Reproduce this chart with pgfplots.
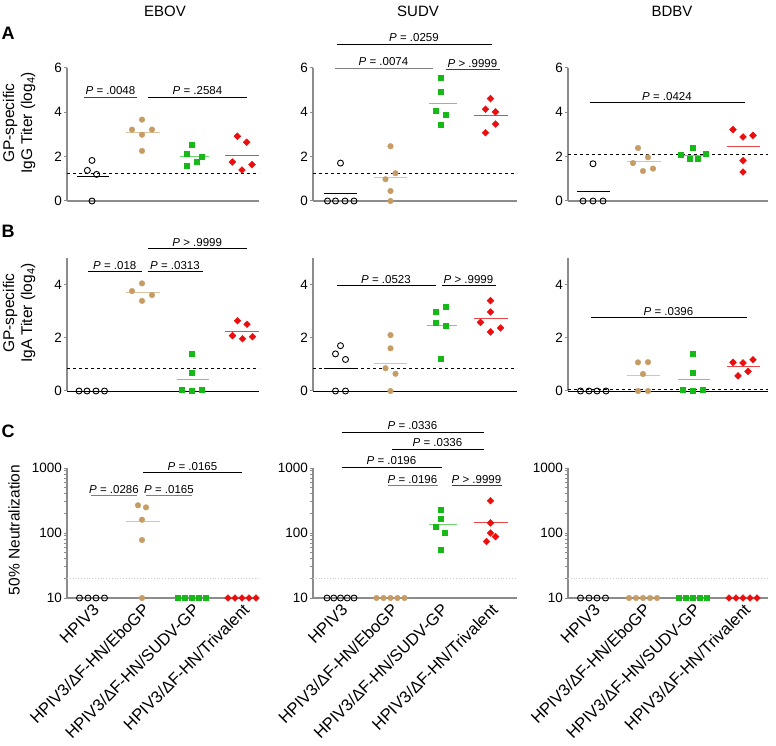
\documentclass[border=0pt]{standalone}
\usepackage{pgfplots}
\pgfplotsset{compat=1.18}
\usepackage{fontspec}
\setmainfont{Liberation Sans}
\definecolor{tanc}{RGB}{198,156,100}
\definecolor{tanl}{RGB}{222,196,158}
\definecolor{grn}{RGB}{22,186,22}
\definecolor{grnl}{RGB}{110,212,110}
\definecolor{redc}{RGB}{234,14,14}
\definecolor{redl}{RGB}{236,70,70}
\definecolor{axgray}{RGB}{140,140,140}
\pgfplotsset{
  panel/.style={scale only axis, anchor=south west, clip=false,
    axis x line*=bottom, axis y line*=left,
    axis line style={axgray, line width=1.4pt},
    xtick=\empty, tick align=outside, major tick length=3pt,
    ytick style={axgray, line width=1pt},
    tick label style={font=\fontsize{13.5}{15}\selectfont},
    /pgf/number format/assume math mode=true,
    yticklabel style={inner sep=1pt, xshift=-1pt}},
  cA/.style={at={(67pt,#1)}, width=192pt, xmin=-0.5, xmax=3.34},
  cB/.style={at={(313pt,#1)}, width=204pt, xmin=-0.55, xmax=3.53},
  cC/.style={at={(568pt,#1)}, width=200pt, xmin=-0.5, xmax=3.5},
  rA/.style={height=133pt, ymin=0, ymax=6, ytick={0,2,4,6}},
  rB/.style={height=132.5pt, ymin=0, ymax=5, ytick={0,2,4},
    x axis line style={black, line width=0.8pt}},
  rC/.style={height=130pt, ymin=10, ymax=1000, ytick={10,100,1000},
    yticklabels={10,100,1000}, xtick={0,1,2,3},
    xticklabels={HPIV3,HPIV3/ΔF-HN/EboGP,HPIV3/ΔF-HN/SUDV-GP,HPIV3/ΔF-HN/Trivalent},
    xtick style={draw=none},
    xticklabel style={rotate=45, anchor=north east, inner sep=1pt, font=\fontsize{16.5}{18}\selectfont}},
  ho/.style={only marks, mark=o, mark size=3pt, black, mark options={line width=0.9pt}},
  eb/.style={only marks, mark=*, mark size=2.8pt, tanc},
  su/.style={only marks, mark=square*, mark size=2.5pt, grn},
  tr/.style={only marks, mark=square*, mark size=2.4pt, redc, mark options={rotate=45}},
  med/.style={line width=1pt, no marks},
  dsh/.style={black, dashed, line width=0.8pt, no marks},
  dtt/.style={gray!40, dotted, line width=0.8pt, no marks},
}
\newcommand{\pv}[5][black]{\draw[#1, line width=0.9pt] (axis cs:#2,#4) -- (axis cs:#3,#4) node[midway, above, inner sep=1.5pt, text=black, font=\fontsize{11.5}{13}\selectfont] {#5};}
\begin{document}
\begin{tikzpicture}
\useasboundingbox (0pt,0pt) rectangle (776pt,745pt);
% titles and labels
\node[font=\fontsize{15}{16}\selectfont] at (165pt,734pt) {EBOV};
\node[font=\fontsize{15}{16}\selectfont] at (418pt,734pt) {SUDV};
\node[font=\fontsize{15}{16}\selectfont] at (672pt,734pt) {BDBV};
\node[font=\fontsize{18}{20}\bfseries\selectfont] at (8pt,712pt) {A};
\node[font=\fontsize{18}{20}\bfseries\selectfont] at (8pt,514pt) {B};
\node[font=\fontsize{18}{20}\bfseries\selectfont] at (8pt,314pt) {C};
\node[rotate=90, align=center, font=\fontsize{15.5}{18}\selectfont] at (19pt,622pt) {GP-specific\\IgG Titer (log\textsubscript{4})};
\node[rotate=90, align=center, font=\fontsize{15.5}{18}\selectfont] at (19pt,432pt) {GP-specific\\IgA Titer (log\textsubscript{4})};
\node[rotate=90, font=\fontsize{15.5}{18}\selectfont] at (14pt,215pt) {50\% Neutralization};

% ---------- Row A ----------
\begin{axis}[panel, cA=544pt, rA]
\addplot[dsh] coordinates {(-0.5,1.26) (3.34,1.26)};
\addplot[ho] coordinates {(0,1.83) (-0.093,1.38) (0.093,1.20) (0,0)};
\addplot[med, black] coordinates {(-0.3,1.11) (0.33,1.11)};
\addplot[eb] coordinates {(1,3.67) (0.8,3.22) (1.2,3.22) (1,2.99) (1,2.26)};
\addplot[med, tanl] coordinates {(0.67,3.07) (1.35,3.07)};
\addplot[su] coordinates {(2,2.54) (1.9,2.14) (2.2,2.02) (1.9,1.58) (2.1,1.79)};
\addplot[med, grnl] coordinates {(1.76,2.0) (2.34,2.0)};
\addplot[tr] coordinates {(2.907,2.92) (3.093,2.65) (2.807,1.76) (3.2,1.64) (3.0,1.40)};
\addplot[med, redl] coordinates {(2.66,2.06) (3.34,2.06)};
\pv[darkgray]{-0.16}{0.9}{4.69}{\textit{P} = .0048}
\pv{1.12}{3.1}{4.69}{\textit{P} = .2584}
\end{axis}

\begin{axis}[panel, cB=544pt, rA]
\addplot[dsh] coordinates {(-0.55,1.25) (3.53,1.25)};
\addplot[ho] coordinates {(-0.26,0) (-0.1,0) (0.09,0) (0.27,0) (0,1.71)};
\addplot[med, black] coordinates {(-0.33,0.33) (0.33,0.33)};
\addplot[eb] coordinates {(1,2.47) (1.1,1.25) (0.9,0.98) (1,0.45) (1,0)};
\addplot[med, tanl] coordinates {(0.67,1.04) (1.33,1.04)};
\addplot[su] coordinates {(2,5.55) (2,4.93) (1.9,4.09) (2.1,3.89) (2,3.43)};
\addplot[med, grnl] coordinates {(1.77,4.39) (2.33,4.39)};
\addplot[tr] coordinates {(3,4.62) (2.9,4.14) (3.1,4.02) (3.1,3.47) (2.9,3.08)};
\addplot[med, redl] coordinates {(2.67,3.86) (3.35,3.86)};
\pv{-0.08}{3.02}{7.08}{\textit{P} = .0259}
\pv[gray]{-0.12}{1.84}{6.0}{\textit{P} = .0074}
\pv[darkgray]{2.1}{3.18}{5.92}{\textit{P} > .9999}
\end{axis}

\begin{axis}[panel, cC=544pt, rA]
\addplot[dsh] coordinates {(-0.5,2.08) (3.5,2.08)};
\addplot[ho] coordinates {(-0.2,0) (0,0) (0.2,0) (0,1.68)};
\addplot[med, black] coordinates {(-0.32,0.42) (0.33,0.42)};
\addplot[eb] coordinates {(0.9,2.39) (1.1,1.97) (0.8,1.71) (1.2,1.46) (1,1.35)};
\addplot[med, tanl] coordinates {(0.68,1.77) (1.35,1.77)};
\addplot[su] coordinates {(2,2.39) (1.76,2.08) (2.26,2.14) (1.93,1.91) (2.1,1.92)};
\addplot[med, grnl] coordinates {(1.72,2.05) (2.3,2.05)};
\addplot[tr] coordinates {(2.8,3.22) (3,2.89) (3.2,2.96) (3,1.82) (3,1.31)};
\addplot[med, redl] coordinates {(2.67,2.47) (3.33,2.47)};
\pv{-0.07}{3.03}{4.44}{\textit{P} = .0424}
\end{axis}

% ---------- Row B ----------
\begin{axis}[panel, cA=354pt, rB]
\addplot[dsh] coordinates {(-0.5,0.86) (3.34,0.86)};
\addplot[ho] coordinates {(-0.26,0) (-0.1,0) (0.08,0) (0.25,0)};
\addplot[eb] coordinates {(1,4.06) (0.8,3.77) (1.2,3.62) (1,3.40)};
\addplot[med, tanl] coordinates {(0.67,3.72) (1.35,3.72)};
\addplot[su] coordinates {(2,1.41) (2,0.69) (1.8,0.04) (2,0) (2.2,0.04)};
\addplot[med, grnl] coordinates {(1.7,0.44) (2.33,0.44)};
\addplot[tr] coordinates {(2.91,2.65) (3.1,2.52) (2.81,2.09) (3.01,1.97) (3.21,2.05)};
\addplot[med, redl] coordinates {(2.66,2.25) (3.34,2.25)};
\pv{-0.09}{1.0}{4.5}{\textit{P} = .018}
\pv{1.11}{2.21}{4.5}{\textit{P} = .0313}
\pv{1.11}{3.1}{5.38}{\textit{P} > .9999}
\end{axis}

\begin{axis}[panel, cB=354pt, rB]
\addplot[dsh] coordinates {(-0.55,0.86) (3.53,0.86)};
\addplot[ho] coordinates {(-0.1,0) (0.1,0) (-0.1,1.40) (0,1.71) (0.1,1.19)};
\addplot[med, black] coordinates {(-0.33,0.86) (0.33,0.86)};
\addplot[eb] coordinates {(1,2.11) (1,1.61) (0.9,0.86) (1.1,0.65) (1,0)};
\addplot[med, tanl] coordinates {(0.67,1.04) (1.33,1.04)};
\addplot[su] coordinates {(2.1,3.17) (1.9,2.98) (1.9,2.58) (2.1,2.47) (2,1.21)};
\addplot[med, grnl] coordinates {(1.72,2.48) (2.33,2.48)};
\addplot[tr] coordinates {(3,3.41) (3,2.98) (2.8,2.59) (3.2,2.38) (3,2.23)};
\addplot[med, redl] coordinates {(2.67,2.73) (3.35,2.73)};
\pv{-0.08}{1.9}{3.99}{\textit{P} = .0523}
\pv{2.02}{3.1}{3.99}{\textit{P} > .9999}
\end{axis}

\begin{axis}[panel, cC=354pt, rB]
\addplot[dsh] coordinates {(-0.5,0.06) (3.5,0.06)};
\addplot[ho] coordinates {(-0.25,0) (-0.08,0) (0.08,0) (0.26,0)};
\addplot[eb] coordinates {(0.9,1.08) (1.1,1.09) (1,0.64) (0.9,0) (1.1,0)};
\addplot[med, tanl] coordinates {(0.67,0.57) (1.33,0.57)};
\addplot[su] coordinates {(2,1.41) (2,0.69) (1.8,0.04) (2,0) (2.2,0.04)};
\addplot[med, grnl] coordinates {(1.7,0.44) (2.33,0.44)};
\addplot[tr] coordinates {(3.2,1.18) (2.8,1.08) (3,1.06) (3.1,0.74) (2.9,0.57)};
\addplot[med, redl] coordinates {(2.67,0.94) (3.33,0.94)};
\pv{-0.05}{3.07}{2.78}{\textit{P} = .0396}
\end{axis}

% ---------- Row C ----------
\begin{axis}[ymode=log, panel, cA=147pt, rC]
\addplot[dtt] coordinates {(-0.5,20) (3.34,20)};
\addplot[ho] coordinates {(-0.25,10) (-0.08,10) (0.08,10) (0.25,10)};
\addplot[eb] coordinates {(0.92,267) (1.08,248) (1,160) (1,78) (1,10)};
\addplot[med, tanl] coordinates {(0.67,151) (1.35,151)};
\addplot[su] coordinates {(1.72,10) (1.86,10) (2,10) (2.14,10) (2.28,10)};
\addplot[tr] coordinates {(2.72,10) (2.86,10) (3,10) (3.14,10) (3.28,10)};
\pv[gray]{-0.02}{0.9}{380}{\textit{P} = .0286}
\pv[gray]{1.08}{2.0}{380}{\textit{P} = .0165}
\pv{1.02}{3.0}{851}{\textit{P} = .0165}
\end{axis}

\begin{axis}[ymode=log, panel, cB=147pt, rC]
\addplot[dtt] coordinates {(-0.55,20) (3.53,20)};
\addplot[ho] coordinates {(-0.27,10) (-0.135,10) (0,10) (0.135,10) (0.27,10)};
\addplot[eb] coordinates {(0.72,10) (0.86,10) (1,10) (1.14,10) (1.28,10)};
\addplot[su] coordinates {(2,229) (2,166) (1.91,125) (2.09,100) (2,54.7)};
\addplot[med, grnl] coordinates {(1.77,134) (2.33,134)};
\addplot[tr] coordinates {(3,314) (3,143) (3,100) (3.1,88) (2.92,74)};
\addplot[med, redl] coordinates {(2.67,143) (3.35,143)};
\pv{0.02}{2.86}{3580}{\textit{P} = .0336}
\pv{1.02}{2.86}{1960}{\textit{P} = .0336}
\pv{0.02}{2.02}{1035}{\textit{P} = .0196}
\pv[gray]{0.94}{1.94}{541}{\textit{P} = .0196}
\pv[darkgray]{2.22}{3.22}{541}{\textit{P} > .9999}
\end{axis}

\begin{axis}[ymode=log, panel, cC=147pt, rC]
\addplot[dtt] coordinates {(-0.5,20) (3.5,20)};
\addplot[ho] coordinates {(-0.25,10) (-0.08,10) (0.08,10) (0.25,10)};
\addplot[eb] coordinates {(0.72,10) (0.86,10) (1,10) (1.14,10) (1.28,10)};
\addplot[su] coordinates {(1.72,10) (1.86,10) (2,10) (2.14,10) (2.28,10)};
\addplot[tr] coordinates {(2.72,10) (2.86,10) (3,10) (3.14,10) (3.28,10)};
\end{axis}
\end{tikzpicture}
\end{document}
